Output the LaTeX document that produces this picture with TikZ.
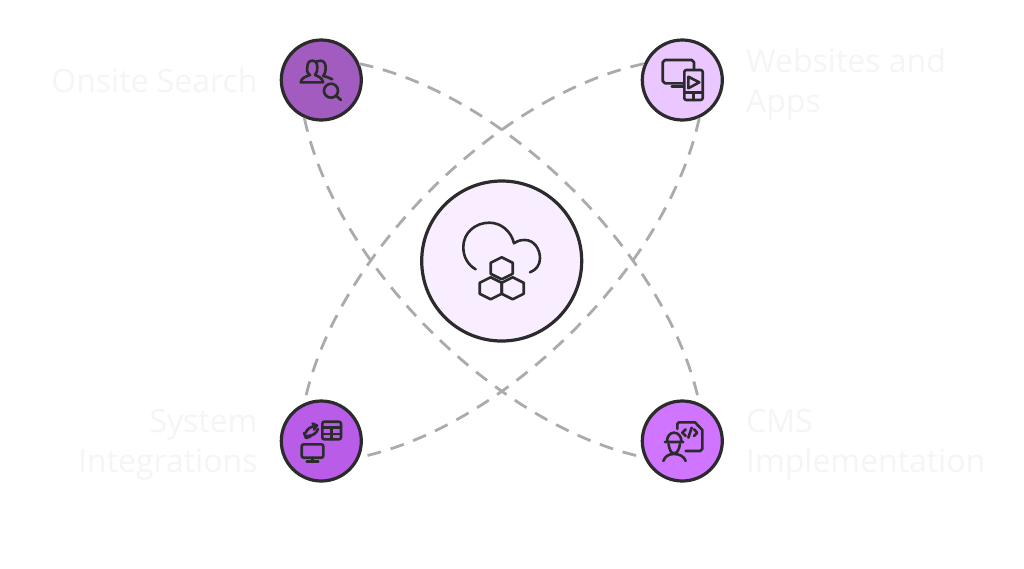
\documentclass[tikz,border=0pt]{standalone}
\usepackage{fontspec}
\setmainfont{Open Sans}
\usetikzlibrary{positioning}
\colorlet{ink}{black!83}
\definecolor{col1}{HTML}{A25BBF}
\definecolor{col2}{HTML}{EBC7FF}
\definecolor{col3}{HTML}{B95CE8}
\definecolor{col4}{HTML}{CF75FF}
\definecolor{col5}{HTML}{F9EEFF}
\definecolor{labelcol}{HTML}{F5F5F6}
\definecolor{linkcol}{HTML}{ABABAB}
\tikzset{
  hub/.style={circle, draw=ink, line width=3.2pt, minimum size=80pt, inner sep=0pt},
  tag/.style={font=\fontsize{32}{40}\selectfont, text=labelcol, inner sep=0pt},
  link/.style={draw=linkcol, line width=2.8pt, dash pattern=on 14pt off 10pt},
  icon/.style={draw=ink, line width=2.6pt, line cap=round, line join=round},
}
\begin{document}
\begin{tikzpicture}[x=1pt, y=-1pt]
    \useasboundingbox (0,0) rectangle (1024,568);
    \fill[white] (0,0) rectangle (1024,568);
    % hubs
    \node[hub, fill=col5, minimum size=160pt] (core) at (501.7,261) {};
    \node[hub, fill=col1] (onsite) at (321.3,80) {};
    \node[hub, fill=col2] (websites) at (682.3,80) {};
    \node[hub, fill=col3] (system) at (321.3,441) {};
    \node[hub, fill=col4] (cms) at (682.3,441) {};
    % dashed arcs
    \draw[link] (onsite.23) .. controls +(147,31) and +(-31,-147) .. (cms.66);
    \draw[link] (onsite.246) .. controls +(31,147) and +(-147,-31) .. (cms.203);
    \draw[link] (websites.157) .. controls +(-147,31) and +(31,-147) .. (system.114);
    \draw[link] (websites.294) .. controls +(-31,147) and +(147,-31) .. (system.337);
    % labels
    \node[tag, left=22pt of onsite] (onsitetxt) {Onsite Search};
    \node[tag, right=22pt of websites, align=left, yshift=-4pt] (websitestxt) {Websites and\\Apps};
    \node[tag, left=22pt of system, align=right, yshift=-4pt] (systemtxt) {System\\Integrations};
    \node[tag, right=22pt of cms, align=left, yshift=-4pt] (cmstxt) {CMS\\Implementation};
    % cloud icon
    \draw[icon] (475.7,269.3) .. controls (468,265) and (463.3,257) .. (463.3,247) .. controls (463.3,233) and (475,222.7) .. (489.3,222.7) .. controls (501,222.7) and (511,231) .. (514,243.3) .. controls (518,240.5) and (521,240) .. (525,240) .. controls (534,240) and (540,249) .. (540,258.3) .. controls (540,265) and (536,270) .. (530,272.3);
    \foreach \hx/\hy in {501.7/268.3, 490.7/288.3, 512.7/288.3}
      \draw[icon] (\hx,\hy) +(0,-11) -- +(11,-5.5) -- +(11,5.5) -- +(0,11) -- +(-11,5.5) -- +(-11,-5.5) -- cycle;
    % people + magnifier
    \draw[icon] (300.7,82.3) -- (323.3,82.3) (300.7,82.3) .. controls (301,78) and (306,76.5) .. (310,75) .. controls (306,72) and (307,69) .. (307.3,67) .. controls (307.5,63) and (309,60.7) .. (312.3,60.7) .. controls (315.5,60.7) and (317.3,63) .. (317.3,67) .. controls (317.5,70) and (317,73) .. (315,75) .. controls (319,76.5) and (322,78) .. (323.3,82.3);
    \draw[icon] (316.5,61.5) .. controls (318,60.7) and (319,60.7) .. (320.7,60.7) .. controls (324,60.7) and (325.7,64) .. (325.7,68) .. controls (325.7,71) and (325,74) .. (323.3,76) .. controls (327,77) and (330,78) .. (332.3,79.3);
    \draw[icon] (331,90.7) circle (7) (336,95.7) -- (341,100);
    % monitor + phone
    \draw[icon] (683,83.3) -- (665,83.3) -- ++(-2.3,-2.3) -- (662.7,62.3) -- ++(2.3,-2.3) -- (691.7,60) -- ++(2.3,2.3) -- (694,69.5);
    \draw[icon] (671.7,86.7) -- (683.5,86.7);
    \draw[icon, rounded corners=2pt] (684.3,70) rectangle (702.7,100);
    \draw[icon] (684.3,92.7) -- (702.7,92.7) (693.5,92.7) -- (693.5,100);
    \draw[icon] (688.3,76.7) -- (699.3,82.3) -- (688.3,88.3) -- cycle;
    % monitor + table + arrows
    \draw[icon, rounded corners=2pt] (301.7,444.3) rectangle (323.3,457.7);
    \draw[icon] (312.5,457.7) -- (312.5,461.7) (306.7,461.7) -- (318.3,461.7);
    \draw[icon, rounded corners=2pt] (322.3,421.7) rectangle (341,439.3);
    \draw[icon] (322.3,427.7) -- (341,427.7) (322.3,434) -- (341,434) (331.7,427.7) -- (331.7,439.3);
    \draw[icon] (305.5,433) .. controls (307,428.5) and (311,426.5) .. (316,426) (312.5,423.5) -- (317,425.5) -- (314,429.5);
    \draw[icon] (318,429) .. controls (316.5,433.5) and (312.5,436) .. (307,436) (304,433) -- (306,438) -- (310.5,436.5);
    % worker + document
    \draw[icon] (677.3,429) -- (677.3,424) -- ++(1.7,-1.7) -- (695,422.3) -- (702.3,430) -- (702.3,449) -- ++(-2,2) -- (685.7,451);
    \draw[icon] (685.7,429.3) -- (682.3,432.7) -- (685.7,436) (691.7,427.7) -- (688.3,437.7) (694,429.3) -- (697.3,432.7) -- (694,436);
    \draw[icon] (665,442) -- (683.3,442) (667,442) .. controls (667,436) and (670,432.7) .. (674,432.7) .. controls (678,432.7) and (681.5,436) .. (681.5,442);
    \draw[icon] (668.5,444) .. controls (669.5,450) and (671,453.3) .. (674,453.3) .. controls (677,453.3) and (679,450) .. (680,444);
    \draw[icon] (663.3,461) .. controls (665,456) and (669,454) .. (674,454) .. controls (679,454) and (684,456) .. (685.7,461);
\end{tikzpicture}
\end{document}
